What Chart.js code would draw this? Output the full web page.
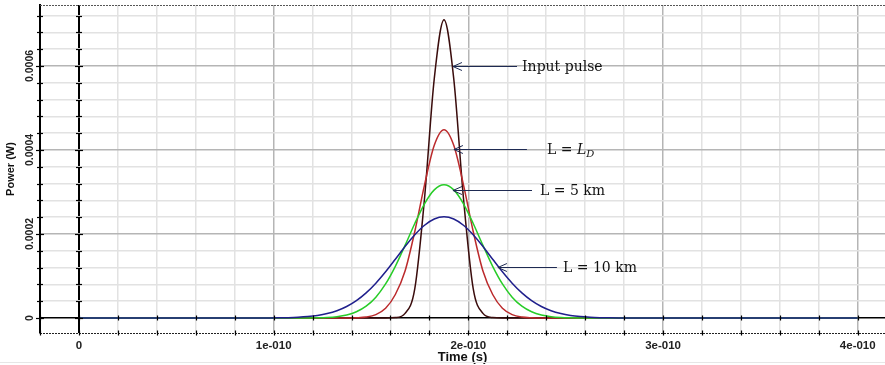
<!DOCTYPE html>
<html>
<head>
<meta charset="utf-8">
<title>Pulse broadening</title>
<script src="https://cdn.jsdelivr.net/npm/chart.js@4.4.1/dist/chart.umd.min.js"></script>
<style>
  html, body { margin: 0; padding: 0; background: #fff; }
  #wrap { width: 885px; height: 365px; }
</style>
</head>
<body>
<div id="wrap"><canvas id="pulseChart" width="885" height="365"></canvas></div>
<script>
// time in picoseconds (axis labels are shown in seconds, optisystem style)
const timePs = [0,
  92.5, 97.5, 102.5, 107.5, 112.5, 117.5, 122.5, 127.5, 132.5, 137.5,
  142.5, 147.5, 152.5, 157.5, 162.5, 167.5, 172.5, 177.5, 182.5, 187.5,
  192.5, 197.5, 202.5, 207.5, 212.5, 217.5, 222.5, 227.5, 232.5, 237.5,
  242.5, 247.5, 252.5, 257.5, 262.5, 267.5, 272.5, 277.5, 282.5,
  400];

// power in W
const powerInput = [0,
  0, 0, 0, 0, 0, 0, 0, 0, 0, 0,
  0, 0, 0, 0, 1.0e-6, 1.1e-5, 7.0e-5, 2.85e-4, 5.7e-4, 7.10e-4,
  5.7e-4, 2.85e-4, 7.0e-5, 1.1e-5, 1.0e-6, 0, 0, 0, 0, 0,
  0, 0, 0, 0, 0, 0, 0, 0, 0,
  0];
const powerLD = [0,
  0, 0, 0, 0, 0, 0, 0, 0, 0, 0,
  5.0e-7, 2.2e-6, 8.0e-6, 2.3e-5, 5.6e-5, 1.12e-4, 2.06e-4, 3.17e-4, 4.11e-4, 4.48e-4,
  4.11e-4, 3.17e-4, 2.06e-4, 1.12e-4, 5.6e-5, 2.3e-5, 8.0e-6, 2.2e-6, 5.0e-7, 0,
  0, 0, 0, 0, 0, 0, 0, 0, 0,
  0];
const power5km = [0,
  0, 0, 0, 0, 0, 1.9e-7, 5.3e-7, 1.36e-6, 3.25e-6, 7.2e-6,
  1.48e-5, 2.81e-5, 4.96e-5, 8.11e-5, 1.23e-4, 1.73e-4, 2.25e-4, 2.72e-4, 3.05e-4, 3.17e-4,
  3.05e-4, 2.72e-4, 2.25e-4, 1.73e-4, 1.23e-4, 8.11e-5, 4.96e-5, 2.81e-5, 1.48e-5, 7.2e-6,
  3.25e-6, 1.36e-6, 5.3e-7, 1.9e-7, 0, 0, 0, 0, 0,
  0];
const power10km = [0,
  0, 2.0e-7, 4.5e-7, 9.0e-7, 1.8e-6, 3.4e-6, 6.1e-6, 1.05e-5, 1.73e-5, 2.74e-5,
  4.14e-5, 5.99e-5, 8.30e-5, 1.101e-4, 1.399e-4, 1.702e-4, 1.982e-4, 2.209e-4, 2.358e-4, 2.41e-4,
  2.358e-4, 2.209e-4, 1.982e-4, 1.702e-4, 1.399e-4, 1.101e-4, 8.30e-5, 5.99e-5, 4.14e-5, 2.74e-5,
  1.73e-5, 1.05e-5, 6.1e-6, 3.4e-6, 1.8e-6, 9.0e-7, 4.5e-7, 2.0e-7, 0,
  0];

const xTickLabels = { 0: '0', 100: '1e-010', 200: '2e-010', 300: '3e-010', 400: '4e-010' };
const yTickValues = [0, 0.0002, 0.0004, 0.0006];
const yTickLabels = ['0', '0.0002', '0.0004', '0.0006'];

// arrow callouts: tip / tail / text start, in data units (ps, W)
const callouts = [
  { parts: [{ t: 'Input pulse' }], tip: [192.1, 6.0e-4], tail: 225, textAt: 227.6 },
  { parts: [{ t: 'L = ' }, { t: 'L', italic: true }, { t: 'D', italic: true, sub: true }], tip: [192.6, 4.02e-4], tail: 230.1, textAt: 240.4 },
  { parts: [{ t: 'L = 5 km' }], tip: [192.1, 3.05e-4], tail: 232.7, textAt: 236.8 },
  { parts: [{ t: 'L = 10 km' }], tip: [215.2, 1.21e-4], tail: 245.5, textAt: 248.6 }
];

const SANS = '"Liberation Sans", Arial, sans-serif';
const SERIF = '"DejaVu Serif", "Liberation Serif", serif';

const isMajorY = v => Math.abs(v / 0.0002 - Math.round(v / 0.0002)) < 1e-6;

const toPoints = arr => timePs.map((t, i) => ({ x: t, y: arr[i] }));

// tick crosses, dotted frame, rotated y labels and arrow callouts
const decorPlugin = {
  id: 'decor',
  afterDatasetsDraw(chart) {
    const { ctx, chartArea: a, scales: { x, y } } = chart;
    const x0 = Math.round(x.getPixelForValue(0));
    const y0 = Math.round(y.getPixelForValue(0));
    ctx.save();

    // dotted top and bottom frame
    ctx.lineWidth = 1;
    ctx.setLineDash([2, 1]);
    ctx.strokeStyle = '#555';
    ctx.beginPath();
    ctx.moveTo(a.left, a.top + 0.5);
    ctx.lineTo(a.right, a.top + 0.5);
    ctx.stroke();
    ctx.strokeStyle = '#222';
    ctx.beginPath();
    ctx.moveTo(a.left, Math.round(a.bottom) + 0.5);
    ctx.lineTo(a.right, Math.round(a.bottom) + 0.5);
    ctx.stroke();
    ctx.setLineDash([]);

    // small tick crosses
    ctx.strokeStyle = '#000';
    ctx.lineWidth = 1.2;
    y.ticks.forEach(t => {
      const py = Math.round(y.getPixelForValue(t.value)) + 0.5;
      const len = isMajorY(t.value) ? 4 : 3;
      [a.left, x0].forEach(px => {
        ctx.beginPath();
        ctx.moveTo(px - len, py);
        ctx.lineTo(px + len, py);
        ctx.stroke();
      });
    });
    x.ticks.forEach(t => {
      const px = Math.round(x.getPixelForValue(t.value)) + 0.5;
      [y0, Math.round(a.bottom)].forEach(py => {
        ctx.beginPath();
        ctx.moveTo(px, py - 2.5);
        ctx.lineTo(px, py + 2.5);
        ctx.stroke();
      });
    });

    // rotated y tick labels
    ctx.fillStyle = '#222';
    ctx.font = 'bold 10.5px ' + SANS;
    ctx.textAlign = 'center';
    ctx.textBaseline = 'middle';
    yTickValues.forEach((v, i) => {
      ctx.save();
      ctx.translate(30, y.getPixelForValue(v));
      ctx.rotate(-Math.PI / 2);
      ctx.fillText(yTickLabels[i], 0, 0);
      ctx.restore();
    });

    // callouts
    ctx.textAlign = 'left';
    callouts.forEach(c => {
      const tx = x.getPixelForValue(c.tip[0]);
      const ty = Math.round(y.getPixelForValue(c.tip[1])) + 0.5;
      const ex = x.getPixelForValue(c.tail);
      ctx.strokeStyle = '#1e2a52';
      ctx.lineWidth = 1;
      ctx.beginPath();
      ctx.moveTo(ex, ty);
      ctx.lineTo(tx, ty);
      ctx.moveTo(tx + 9, ty - 4);
      ctx.lineTo(tx, ty);
      ctx.lineTo(tx + 9, ty + 4);
      ctx.stroke();

      let px = x.getPixelForValue(c.textAt);
      ctx.fillStyle = '#111';
      c.parts.forEach(p => {
        const size = p.sub ? 10 : 14;
        ctx.font = (p.italic ? 'italic ' : '') + size + 'px ' + SERIF;
        ctx.fillText(p.t, px, ty + 1 + (p.sub ? 4 : 0));
        px += ctx.measureText(p.t).width;
      });
    });

    // faint page edge under the axis title
    ctx.strokeStyle = '#e6e6e6';
    ctx.lineWidth = 1;
    ctx.beginPath();
    ctx.moveTo(0, 362.5);
    ctx.lineTo(chart.width, 362.5);
    ctx.stroke();

    ctx.restore();
  }
};

const lineStyle = color => ({
  borderColor: color,
  borderWidth: 1.5,
  pointRadius: 0,
  fill: false,
  cubicInterpolationMode: 'monotone'
});

new Chart(document.getElementById('pulseChart'), {
  type: 'line',
  data: {
    datasets: [
      { label: 'L = 10 km', data: toPoints(power10km), ...lineStyle('#1f1f8c') },
      { label: 'L = 5 km', data: toPoints(power5km), ...lineStyle('#27cc27') },
      { label: 'L = LD', data: toPoints(powerLD), ...lineStyle('#bb2a2c') },
      { label: 'Input pulse', data: toPoints(powerInput), ...lineStyle('#3a0c0c') }
    ]
  },
  options: {
    responsive: false,
    animation: false,
    layout: { padding: { top: 5, left: 0, right: 0, bottom: 0 } },
    plugins: {
      legend: { display: false },
      tooltip: { enabled: false }
    },
    scales: {
      x: {
        type: 'linear',
        min: -20,
        max: 414,
        afterFit: s => { s.height = 32; },
        ticks: {
          stepSize: 20,
          includeBounds: false,
          autoSkip: false,
          maxRotation: 0,
          padding: 6,
          color: '#222',
          font: { family: SANS, size: 11.5, weight: 'bold' },
          callback: v => xTickLabels[v] ?? ''
        },
        grid: {
          drawTicks: false,
          color: c => c.tick.value === 0 ? '#000' : (c.tick.value % 100 === 0 ? '#b5b5b5' : '#e2e2e2'),
          lineWidth: c => c.tick.value === 0 ? 2 : 1.5
        },
        border: { display: false },
        title: {
          display: true,
          text: 'Time (s)',
          color: '#111',
          padding: { top: 0, bottom: 0 },
          font: { family: SANS, size: 13, weight: 'bold' }
        }
      },
      y: {
        type: 'linear',
        min: -3.57e-5,
        max: 7.452e-4,
        afterFit: s => { s.width = 40; },
        ticks: { stepSize: 0.00004, includeBounds: false, display: false },
        grid: {
          drawTicks: false,
          color: c => c.tick.value === 0 ? '#000' : (isMajorY(c.tick.value) ? '#b5b5b5' : '#e2e2e2'),
          lineWidth: 1.5
        },
        border: { display: true, color: '#000', width: 2 },
        title: {
          display: true,
          text: 'Power (W)',
          color: '#111',
          padding: { top: 4, bottom: 0 },
          font: { family: SANS, size: 11, weight: 'bold' }
        }
      }
    }
  },
  plugins: [decorPlugin]
});
</script>
</body>
</html>
